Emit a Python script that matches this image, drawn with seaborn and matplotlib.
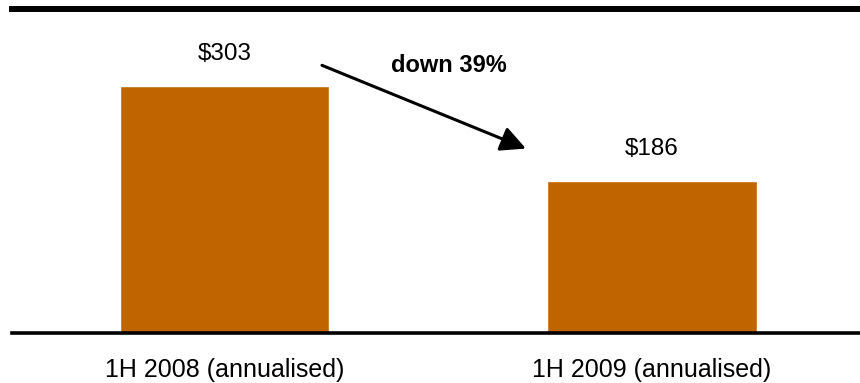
import matplotlib
matplotlib.use("Agg")
import matplotlib.pyplot as plt
import seaborn as sns
import pandas as pd

# data
periods = ["1H 2008 (annualised)", "1H 2009 (annualised)"]
values = [303, 186]
value_labels = ["$303", "$186"]
change_label = "down 39%"

sns.set_style("white")
plt.rcParams['font.family'] = ['Liberation Sans', 'DejaVu Sans']
plt.rcParams['text.color'] = 'black'
plt.rcParams['xtick.color'] = 'black'

df = pd.DataFrame({"period": periods, "value": values})

fig = plt.figure(figsize=(8.6, 3.83), dpi=100)
ax = fig.add_axes([0.014, 0.1305, 0.986, 0.846])

sns.barplot(data=df, x="period", y="value", color="#C06400", saturation=1,
            width=0.49, ax=ax)

ax.set_xlim(-0.497, 1.4865)
ax.set_ylim(0, 397)

# value labels above bars
for i, (v, lab) in enumerate(zip(values, value_labels)):
    ax.text(i, v + 32, lab, ha="center", va="baseline", fontsize=17.5)

# arrow + change label
ax.annotate("", xy=(0.705, 226), xytext=(0.228, 328),
            arrowprops=dict(arrowstyle="-|>", color="black", lw=2.2,
                            mutation_scale=38, shrinkA=0, shrinkB=0))
ax.text(0.524, 320, change_label, ha="center", va="baseline",
        fontsize=17, fontweight="bold")

# frame: thick top line, baseline at bottom
for side in ["left", "right"]:
    ax.spines[side].set_visible(False)
ax.spines["top"].set_linewidth(4.3)
ax.spines["bottom"].set_linewidth(2.6)
ax.spines["top"].set_color("black")
ax.spines["bottom"].set_color("black")

ax.set_yticks([])
ax.set_xlabel("")
ax.set_ylabel("")
ax.tick_params(axis="x", length=0, pad=18, labelsize=18)

fig.savefig("out.png", dpi=100)
